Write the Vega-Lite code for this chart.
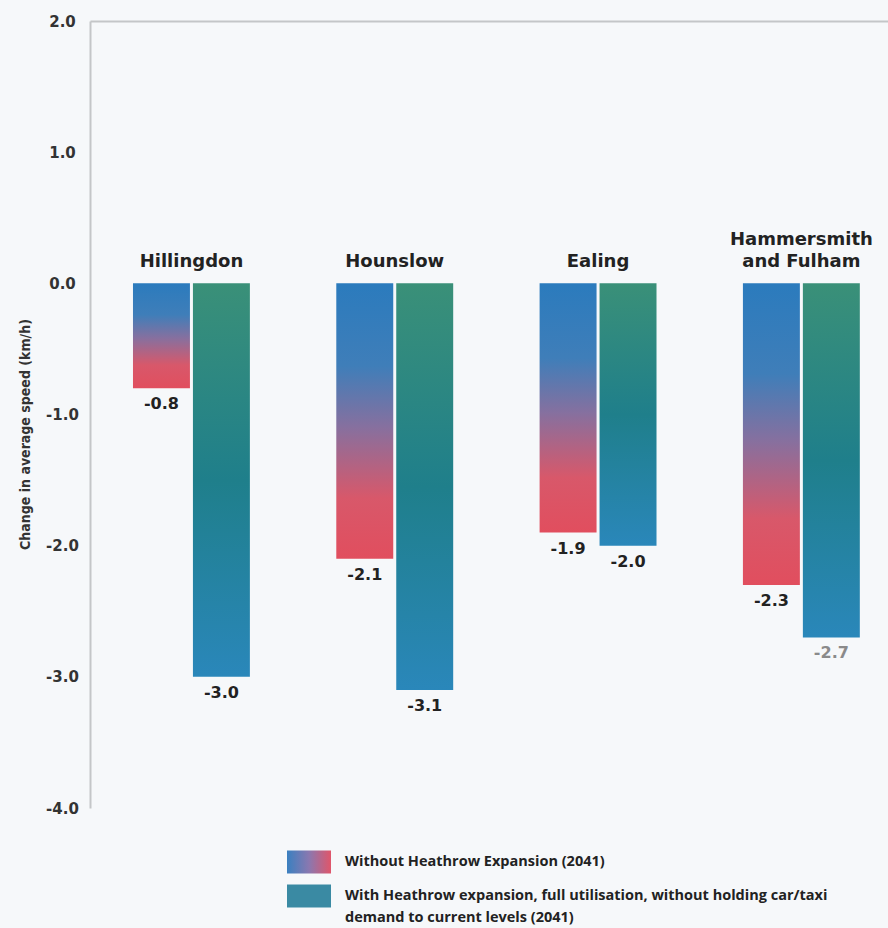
{
  "$schema": "https://vega.github.io/schema/vega-lite/v6.json",
  "width": 798,
  "height": 787,
  "autosize": {"type": "none"},
  "padding": {"left": 90, "top": 21, "right": 0, "bottom": 120},
  "background": "#f6f8fa",
  "config": {
    "view": {"stroke": null},
    "font": "DejaVu Sans",
    "locale": {"number": {"decimal": ".", "thousands": ",", "grouping": [3], "currency": ["", ""], "minus": "-"}}
  },
  "datasets": {
    "bars": [
      {"borough": "Hillingdon", "series": "Without Heathrow Expansion (2041)", "change": -0.8},
      {"borough": "Hillingdon", "series": "With Heathrow expansion, full utilisation, without holding car/taxi demand to current levels (2041)", "change": -3.0},
      {"borough": "Hounslow", "series": "Without Heathrow Expansion (2041)", "change": -2.1},
      {"borough": "Hounslow", "series": "With Heathrow expansion, full utilisation, without holding car/taxi demand to current levels (2041)", "change": -3.1},
      {"borough": "Ealing", "series": "Without Heathrow Expansion (2041)", "change": -1.9},
      {"borough": "Ealing", "series": "With Heathrow expansion, full utilisation, without holding car/taxi demand to current levels (2041)", "change": -2.0},
      {"borough": "Hammersmith and Fulham", "series": "Without Heathrow Expansion (2041)", "change": -2.3},
      {"borough": "Hammersmith and Fulham", "series": "With Heathrow expansion, full utilisation, without holding car/taxi demand to current levels (2041)", "change": -2.7}
    ],
    "boroughs": [
      {"borough": "Hillingdon", "label": "Hillingdon"},
      {"borough": "Hounslow", "label": "Hounslow"},
      {"borough": "Ealing", "label": "Ealing"},
      {"borough": "Hammersmith and Fulham", "label": "Hammersmith\nand Fulham"}
    ]
  },
  "data": {"name": "bars"},
  "layer": [
    {
      "transform": [{"filter": "datum.series === 'Without Heathrow Expansion (2041)'"}],
      "mark": {
        "type": "bar",
        "color": {
          "gradient": "linear", "x1": 0, "y1": 0, "x2": 0, "y2": 1,
          "stops": [
            {"offset": 0, "color": "#2b7bbd"},
            {"offset": 0.3, "color": "#3f7eb9"},
            {"offset": 0.52, "color": "#86709f"},
            {"offset": 0.78, "color": "#d8586a"},
            {"offset": 1, "color": "#e14e5e"}
          ]
        }
      },
      "encoding": {
        "x": {
          "field": "borough", "type": "nominal",
          "scale": {"domain": ["Hillingdon", "Hounslow", "Ealing", "Hammersmith and Fulham"], "paddingInner": 0.425, "paddingOuter": 0.175, "align": 0.604},
          "axis": null
        },
        "xOffset": {
          "field": "series", "type": "nominal",
          "scale": {"domain": ["Without Heathrow Expansion (2041)", "With Heathrow expansion, full utilisation, without holding car/taxi demand to current levels (2041)"], "paddingInner": 0.05, "paddingOuter": 0}
        },
        "y": {
          "field": "change", "type": "quantitative",
          "scale": {"domain": [-4, 2], "nice": false},
          "axis": {
            "title": "Change in average speed (km/h)",
            "values": [-4, -3, -2, -1, 0, 1, 2],
            "format": ".1f",
            "ticks": false,
            "tickSize": 0,
            "labelPadding": 28,
            "labelAlign": "center",
            "labelFont": "DejaVu Sans",
            "labelFontSize": 15,
            "labelFontWeight": "bold",
            "labelColor": "#333333",
            "domainColor": "#c4c6c8",
            "domainWidth": 2,
            "grid": true,
            "gridColor": "#c4c6c8",
            "gridWidth": 2,
            "gridOpacity": {"condition": {"test": "datum.value == 2", "value": 1}, "value": 0},
            "titleFont": "DejaVu Sans Condensed",
            "titleFontSize": 14,
            "titleFontWeight": "bold",
            "titleColor": "#333333",
            "titleAngle": -90,
            "titleX": -65,
            "titleY": 413,
            "titleBaseline": "middle",
            "titleAlign": "center"
          }
        }
      }
    },
    {
      "transform": [{"filter": "datum.series !== 'Without Heathrow Expansion (2041)'"}],
      "mark": {
        "type": "bar",
        "color": {
          "gradient": "linear", "x1": 0, "y1": 0, "x2": 0, "y2": 1,
          "stops": [
            {"offset": 0, "color": "#3a9078"},
            {"offset": 0.5, "color": "#1f7f8b"},
            {"offset": 1, "color": "#2a87ba"}
          ]
        }
      },
      "encoding": {
        "x": {"field": "borough", "type": "nominal"},
        "xOffset": {"field": "series", "type": "nominal"},
        "y": {"field": "change", "type": "quantitative"}
      }
    },
    {
      "mark": {"type": "text", "baseline": "top", "dy": 8, "font": "DejaVu Sans", "fontSize": 16, "fontWeight": "bold"},
      "encoding": {
        "x": {"field": "borough", "type": "nominal"},
        "xOffset": {"field": "series", "type": "nominal"},
        "y": {"field": "change", "type": "quantitative"},
        "text": {"field": "change", "type": "quantitative", "format": ".1f"},
        "color": {"condition": {"test": "datum.change == -2.7", "value": "#8a8a8a"}, "value": "#222222"}
      }
    },
    {
      "data": {"name": "boroughs"},
      "transform": [{"filter": "datum.borough !== 'Hammersmith and Fulham'"}],
      "mark": {"type": "text", "baseline": "bottom", "dy": -12, "font": "DejaVu Sans", "fontSize": 18, "fontWeight": "bold", "color": "#222222"},
      "encoding": {
        "x": {"field": "borough", "type": "nominal"},
        "y": {"datum": 0},
        "text": {"field": "label", "type": "nominal"}
      }
    },
    {
      "data": {"name": "boroughs"},
      "transform": [{"filter": "datum.borough === 'Hammersmith and Fulham'"}],
      "mark": {"type": "text", "baseline": "bottom", "dy": -34, "lineBreak": "\n", "lineHeight": 22, "font": "DejaVu Sans", "fontSize": 18, "fontWeight": "bold", "color": "#222222"},
      "encoding": {
        "x": {"field": "borough", "type": "nominal"},
        "y": {"datum": 0},
        "text": {"field": "label", "type": "nominal"}
      }
    },
    {
      "mark": {"type": "square", "opacity": 0},
      "encoding": {
        "x": {"field": "borough", "type": "nominal"},
        "y": {"field": "change", "type": "quantitative"},
        "color": {
          "field": "series", "type": "nominal",
          "scale": {
            "domain": ["Without Heathrow Expansion (2041)", "With Heathrow expansion, full utilisation, without holding car/taxi demand to current levels (2041)"],
            "range": [
              {"expr": "{gradient: 'linear', x1: 0, y1: 0, x2: 1, y2: 0, stops: [{offset: 0, color: '#3a80c0'}, {offset: 0.5, color: '#8a78b0'}, {offset: 1, color: '#e0566a'}]}"},
              "#3a8aa3"
            ]
          },
          "legend": {
            "title": null,
            "orient": "none",
            "legendX": 197,
            "legendY": 819,
            "direction": "vertical",
            "padding": 0,
            "symbolType": "M-1,-0.52H1V0.52H-1Z",
            "symbolSize": 1936,
            "symbolStrokeWidth": 0,
            "symbolOpacity": 1,
            "labelOffset": 14,
            "labelLimit": 700,
            "labelFont": "Open Sans",
            "labelFontSize": 14.5,
            "labelFontWeight": "bold",
            "labelColor": "#222222",
            "rowPadding": -9,
            "labelExpr": "datum.label === 'With Heathrow expansion, full utilisation, without holding car/taxi demand to current levels (2041)' ? ['With Heathrow expansion, full utilisation, without holding car/taxi', 'demand to current levels (2041)'] : datum.label",
            "encode": {
              "symbols": {
                "update": {
                  "opacity": {"value": 1},
                  "strokeWidth": {"value": 0}
                }
              },
              "labels": {"update": {"lineHeight": {"value": 22}}}
            }
          }
        }
      }
    }
  ]
}
